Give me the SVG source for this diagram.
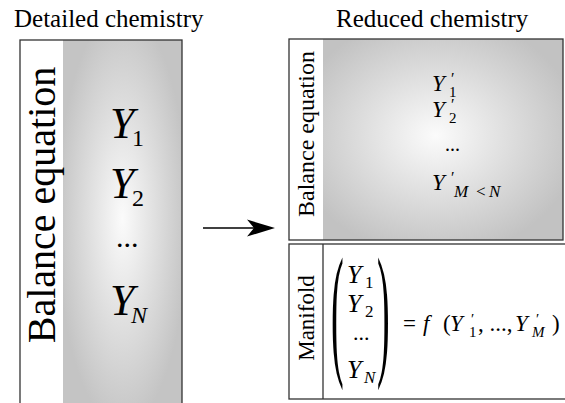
<svg xmlns="http://www.w3.org/2000/svg" width="565" height="403" viewBox="0 0 565 403">
<defs>
<radialGradient id="gL" cx="0.5" cy="0.47" r="0.55" fx="0.5" fy="0.47">
<stop offset="0" stop-color="#fbfbfb"/>
<stop offset="1" stop-color="#c4c4c4"/>
</radialGradient>
<radialGradient id="gR" cx="0.47" cy="0.48" r="0.6">
<stop offset="0" stop-color="#fbfbfb"/>
<stop offset="1" stop-color="#c2c2c2"/>
</radialGradient>
</defs>
<rect width="565" height="403" fill="#fff"/>

<text x="14" y="27" font-size="25" font-family="Liberation Serif">Detailed chemistry</text>
<text x="336" y="27" font-size="25" font-family="Liberation Serif">Reduced chemistry</text>

<g id="detailed">
<rect x="63" y="40" width="119" height="380" fill="url(#gL)"/>
<rect x="20" y="40" width="162" height="380" fill="none" stroke="#333" stroke-width="1.3"/>
<text transform="translate(55,205) rotate(-90)" text-anchor="middle" font-size="40" font-family="Liberation Serif">Balance equation</text>
<text x="110" y="138" font-size="44" font-family="Liberation Serif" font-style="italic">Y</text>
<text x="132" y="146" font-size="24" font-family="Liberation Serif">1</text>
<text x="110" y="198" font-size="44" font-family="Liberation Serif" font-style="italic">Y</text>
<text x="132" y="206" font-size="24" font-family="Liberation Serif">2</text>
<text x="116" y="247" font-size="30" font-family="Liberation Serif">...</text>
<text x="110" y="315" font-size="44" font-family="Liberation Serif" font-style="italic">Y</text>
<text x="131" y="323" font-size="24" font-family="Liberation Serif" font-style="italic">N</text>
</g>

<g id="connectors">
<line x1="203" y1="228" x2="255" y2="228" stroke="#000" stroke-width="1.5"/>
<path d="M275,228 L247,219.5 L254,228 L247,236.5 Z" fill="#000"/>
</g>

<g id="reduced">
<rect x="323" y="39" width="240" height="201" fill="url(#gR)"/>
<rect x="289" y="39" width="274" height="201" fill="none" stroke="#333" stroke-width="1.3"/>
<text transform="translate(314,134) rotate(-90)" text-anchor="middle" font-size="24" font-family="Liberation Serif">Balance equation</text>
<text x="432" y="91" font-size="23" font-family="Liberation Serif" font-style="italic">Y</text>
<text x="451" y="84" font-size="16" font-family="Liberation Serif">′</text>
<text x="449" y="97" font-size="15" font-family="Liberation Serif">1</text>
<text x="432" y="117" font-size="23" font-family="Liberation Serif" font-style="italic">Y</text>
<text x="451" y="110" font-size="16" font-family="Liberation Serif">′</text>
<text x="449" y="123" font-size="15" font-family="Liberation Serif">2</text>
<text x="445" y="151" font-size="20" font-family="Liberation Serif">...</text>
<text x="432" y="190" font-size="23" font-family="Liberation Serif" font-style="italic">Y</text>
<text x="451" y="183" font-size="16" font-family="Liberation Serif">′</text>
<text x="454" y="197" font-size="17" font-family="Liberation Serif" font-style="italic">M</text>
<text x="476" y="197" font-size="17" font-family="Liberation Serif">&lt;</text>
<text x="489" y="197" font-size="17" font-family="Liberation Serif" font-style="italic">N</text>
</g>

<g id="manifold">
<rect x="289" y="244" width="300" height="155" fill="none" stroke="#333" stroke-width="1.3"/>
<line x1="323" y1="244" x2="323" y2="399" stroke="#333" stroke-width="1.3"/>
<text transform="translate(314,318) rotate(-90)" text-anchor="middle" font-size="23" font-family="Liberation Serif">Manifold</text>
<text transform="translate(331,359) scale(1,3.85)" font-size="38" font-family="Liberation Serif">(</text>
<text transform="translate(377,359) scale(1,3.85)" font-size="38" font-family="Liberation Serif">)</text>
<text x="347" y="283" font-size="26" font-family="Liberation Serif" font-style="italic">Y</text>
<text x="365" y="288" font-size="17" font-family="Liberation Serif">1</text>
<text x="347" y="312" font-size="26" font-family="Liberation Serif" font-style="italic">Y</text>
<text x="365" y="317" font-size="17" font-family="Liberation Serif">2</text>
<text x="353" y="340" font-size="22" font-family="Liberation Serif">...</text>
<text x="347" y="378" font-size="26" font-family="Liberation Serif" font-style="italic">Y</text>
<text x="364" y="383" font-size="17" font-family="Liberation Serif" font-style="italic">N</text>
<text x="403" y="331" font-size="23" font-family="Liberation Serif">=</text>
<text x="423" y="331" font-size="23" font-family="Liberation Serif" font-style="italic">f</text>
<text x="443" y="331" font-size="23" font-family="Liberation Serif">(</text>
<text x="450" y="331" font-size="23" font-family="Liberation Serif" font-style="italic">Y</text>
<text x="471" y="324" font-size="15" font-family="Liberation Serif">′</text>
<text x="469" y="337" font-size="15" font-family="Liberation Serif">1</text>
<text x="478" y="331" font-size="23" font-family="Liberation Serif">, ..., </text>
<text x="515" y="331" font-size="23" font-family="Liberation Serif" font-style="italic">Y</text>
<text x="536" y="324" font-size="15" font-family="Liberation Serif">′</text>
<text x="532" y="337" font-size="15" font-family="Liberation Serif" font-style="italic">M</text>
<text x="552" y="331" font-size="23" font-family="Liberation Serif">)</text>
</g>
</svg>
